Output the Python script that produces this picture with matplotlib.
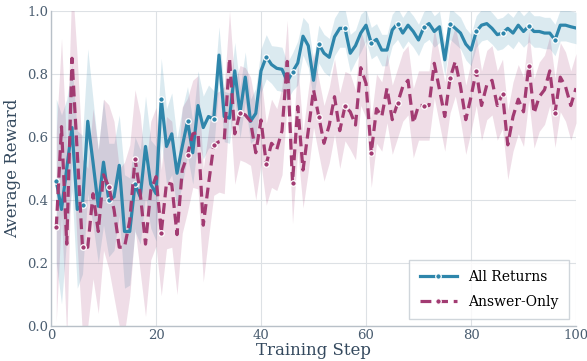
import matplotlib
matplotlib.use("Agg")
import matplotlib.pyplot as plt
import numpy as np

steps = list(range(1, 101))

all_returns = [
    0.46, 0.37, 0.50, 0.63, 0.37, 0.385, 0.65, 0.52, 0.38, 0.52,
    0.40, 0.41, 0.51, 0.30, 0.30, 0.45, 0.41, 0.57, 0.45, 0.42,
    0.72, 0.57, 0.61, 0.485, 0.57, 0.65, 0.55, 0.70, 0.63, 0.665,
    0.657, 0.86, 0.665, 0.66, 0.81, 0.677, 0.79, 0.65, 0.675, 0.81,
    0.855, 0.83, 0.818, 0.815, 0.776, 0.807, 0.835, 0.92, 0.89, 0.78,
    0.895, 0.866, 0.853, 0.918, 0.945, 0.945, 0.866, 0.89, 0.93, 0.955,
    0.898, 0.91, 0.876, 0.876, 0.94, 0.96, 0.93, 0.955, 0.935, 0.908,
    0.948, 0.96, 0.935, 0.95, 0.845, 0.96, 0.945, 0.93, 0.895, 0.876,
    0.935, 0.955, 0.96, 0.945, 0.925, 0.93, 0.945, 0.93, 0.955, 0.935,
    0.952, 0.935, 0.935, 0.93, 0.93, 0.908, 0.955, 0.955, 0.95, 0.946,
]

answer_only = [
    0.313, 0.633, 0.26, 0.85, 0.55, 0.25, 0.25, 0.42, 0.30, 0.48,
    0.442, 0.37, 0.25, 0.25, 0.335, 0.53, 0.42, 0.26, 0.43, 0.474,
    0.296, 0.455, 0.45, 0.29, 0.495, 0.543, 0.61, 0.615, 0.32, 0.45,
    0.575, 0.585, 0.59, 0.85, 0.61, 0.677, 0.67, 0.65, 0.55, 0.654,
    0.514, 0.58, 0.56, 0.62, 0.84, 0.455, 0.697, 0.495, 0.62, 0.75,
    0.665, 0.58, 0.638, 0.728, 0.62, 0.698, 0.68, 0.638, 0.82, 0.77,
    0.55, 0.69, 0.665, 0.755, 0.655, 0.707, 0.76, 0.78, 0.644, 0.70,
    0.70, 0.70, 0.834, 0.75, 0.665, 0.786, 0.84, 0.76, 0.655, 0.728,
    0.81, 0.70, 0.765, 0.78, 0.70, 0.737, 0.575, 0.665, 0.72, 0.68,
    0.827, 0.675, 0.728, 0.75, 0.81, 0.677, 0.79, 0.76, 0.70, 0.755,
]

all_std = [
    0.26, 0.30, 0.22, 0.20, 0.25, 0.22, 0.23, 0.20, 0.18, 0.20,
    0.18, 0.17, 0.16, 0.18, 0.17, 0.15, 0.15, 0.16, 0.14, 0.15,
    0.13, 0.12, 0.13, 0.11, 0.12, 0.11, 0.10, 0.11, 0.10, 0.10,
    0.09, 0.09, 0.08, 0.08, 0.09, 0.08, 0.08, 0.07, 0.08, 0.07,
    0.07, 0.06, 0.07, 0.07, 0.06, 0.06, 0.07, 0.06, 0.07, 0.06,
    0.06, 0.06, 0.06, 0.06, 0.06, 0.06, 0.06, 0.05, 0.06, 0.05,
    0.05, 0.05, 0.05, 0.05, 0.05, 0.05, 0.05, 0.05, 0.05, 0.05,
    0.05, 0.05, 0.05, 0.05, 0.05, 0.05, 0.05, 0.05, 0.05, 0.05,
    0.05, 0.05, 0.05, 0.05, 0.05, 0.05, 0.05, 0.05, 0.05, 0.05,
    0.05, 0.05, 0.05, 0.05, 0.05, 0.05, 0.05, 0.05, 0.05, 0.05,
]

ans_std = [
    0.30, 0.28, 0.30, 0.25, 0.30, 0.28, 0.25, 0.27, 0.26, 0.24,
    0.26, 0.28, 0.25, 0.27, 0.24, 0.22, 0.25, 0.23, 0.22, 0.22,
    0.20, 0.21, 0.20, 0.19, 0.20, 0.18, 0.17, 0.18, 0.18, 0.17,
    0.16, 0.16, 0.17, 0.15, 0.16, 0.15, 0.15, 0.14, 0.15, 0.14,
    0.13, 0.14, 0.13, 0.14, 0.13, 0.13, 0.14, 0.12, 0.13, 0.12,
    0.12, 0.12, 0.12, 0.12, 0.12, 0.11, 0.12, 0.11, 0.12, 0.11,
    0.11, 0.11, 0.11, 0.11, 0.11, 0.11, 0.11, 0.11, 0.11, 0.11,
    0.11, 0.11, 0.11, 0.11, 0.11, 0.11, 0.11, 0.11, 0.11, 0.11,
    0.11, 0.11, 0.11, 0.11, 0.11, 0.11, 0.11, 0.11, 0.11, 0.11,
    0.11, 0.11, 0.11, 0.11, 0.11, 0.11, 0.11, 0.11, 0.11, 0.11,
]

blue = "#2E86AB"
magenta = "#A23B72"
text_col = "#34495e"

plt.rcParams["font.family"] = ["DejaVu Serif"]

fig = plt.figure(figsize=(5.87, 3.61), dpi=100)
ax = fig.add_axes([0.0869, 0.097, 0.8944, 0.8725])

x = np.array(steps)
a = np.array(all_returns)
b = np.array(answer_only)
sa = np.array(all_std)
sb = np.array(ans_std)

ax.fill_between(x, a - sa, a + sa, color=blue, alpha=0.17, lw=0)
ax.fill_between(x, b - sb, b + sb, color=magenta, alpha=0.17, lw=0)

ax.plot(x, a, color=blue, lw=2.3, marker="o", markevery=5, markersize=4,
        markeredgecolor="white", markeredgewidth=0.9, label="All Returns", zorder=3)
ax.plot(x, b, color=magenta, lw=2.3, ls=(0, (3.4, 1.8)), marker="o", markevery=5,
        markersize=4, markeredgecolor="white", markeredgewidth=0.9,
        label="Answer-Only", zorder=3)

ax.set_xlim(0, 100)
ax.set_ylim(0, 1.0)
ax.set_xticks([0, 20, 40, 60, 80, 100])
ax.set_yticks([0.0, 0.2, 0.4, 0.6, 0.8, 1.0])
ax.grid(True, color="#dde1e5", lw=0.8)
ax.set_axisbelow(True)
for s in ["top", "right"]:
    ax.spines[s].set_visible(False)
for s in ["left", "bottom"]:
    ax.spines[s].set_color("#b8c0c8")
    ax.spines[s].set_linewidth(1.0)
ax.tick_params(length=0, labelsize=9.5, colors="#4a5d70", pad=2)

ax.set_xlabel("Training Step", fontsize=12, color=text_col, labelpad=0)
ax.set_ylabel("Average Reward", fontsize=12, color=text_col, labelpad=4)

leg = ax.legend(loc="lower right", fontsize=10, frameon=True, fancybox=False,
                edgecolor="#c5ccd3", borderpad=0.75, labelspacing=0.75,
                handlelength=2.7, handletextpad=0.8, borderaxespad=0.5)
leg.get_frame().set_linewidth(1.0)

fig.savefig("out.png", dpi=100)
